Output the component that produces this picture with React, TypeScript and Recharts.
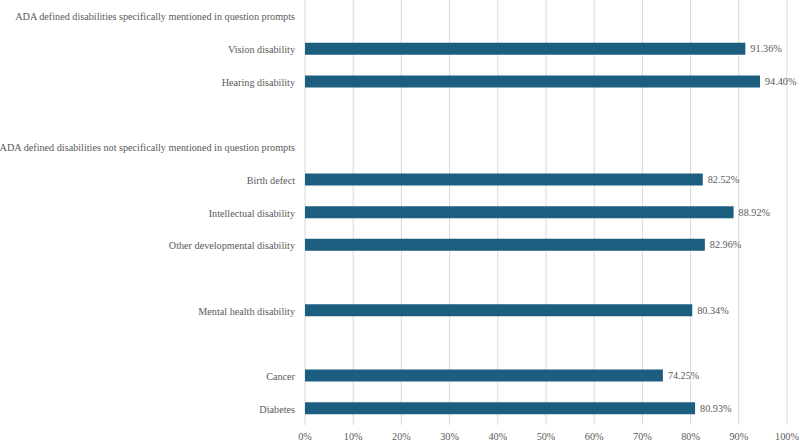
import React from 'react';
import { BarChart, Bar, XAxis, YAxis, CartesianGrid, LabelList } from 'recharts';

// rows top to bottom; headers and spacer rows have no value
const categories = [
  'ADA defined disabilities specifically mentioned in question prompts',
  'Vision disability',
  'Hearing disability',
  '',
  'ADA defined disabilities not specifically mentioned in question prompts',
  'Birth defect',
  'Intellectual disability',
  'Other developmental disability',
  '',
  'Mental health disability',
  '',
  'Cancer',
  'Diabetes',
];
const values: (number | null)[] = [null, 91.36, 94.4, null, null, 82.52, 88.92, 82.96, null, 80.34, null, 74.25, 80.93];
const xTicks = [0, 10, 20, 30, 40, 50, 60, 70, 80, 90, 100];

const data = categories.map((label, i) => ({ id: i, label, value: values[i] }));

const font = 'Liberation Serif';
const size = 10.2;
const grey = '#595959';

const CategoryTick = ({ x, y, payload }: any) => (
  <text x={x} y={y} dy={4} textAnchor="end" fontFamily={font} fontSize={size} fill={grey}>
    {categories[payload.value]}
  </text>
);

const PctTick = ({ x, y, payload }: any) => (
  <text x={x} y={y} dy={13} textAnchor="middle" fontFamily={font} fontSize={size} fill={grey}>
    {`${payload.value}%`}
  </text>
);

export default function App() {
  return (
    <div style={{ position: 'absolute', left: 0, top: 0, background: '#fff' }}>
      <BarChart
        width={800}
        height={443}
        data={data}
        layout="vertical"
        margin={{ top: 0, right: 13, bottom: 0, left: 0 }}
      >
        <CartesianGrid horizontal={false} stroke="#d9d9d9" />
        <XAxis
          type="number"
          domain={[0, 100]}
          ticks={xTicks}
          axisLine={false}
          tickLine={false}
          tickSize={0}
          tickMargin={2}
          height={18}
          tick={<PctTick />}
          interval={0}
        />
        <YAxis
          type="category"
          dataKey="id"
          width={305}
          axisLine={false}
          tickLine={false}
          tickSize={0}
          tickMargin={10}
          tick={<CategoryTick />}
          interval={0}
        />
        <Bar dataKey="value" fill="#1b5e80" barSize={12} isAnimationActive={false}>
          <LabelList
            dataKey="value"
            position="right"
            offset={5}
            formatter={(v: any) => (v == null ? '' : `${Number(v).toFixed(2)}%`)}
            fontFamily={font}
            fontSize={size}
            fill={grey}
          />
        </Bar>
      </BarChart>
    </div>
  );
}
